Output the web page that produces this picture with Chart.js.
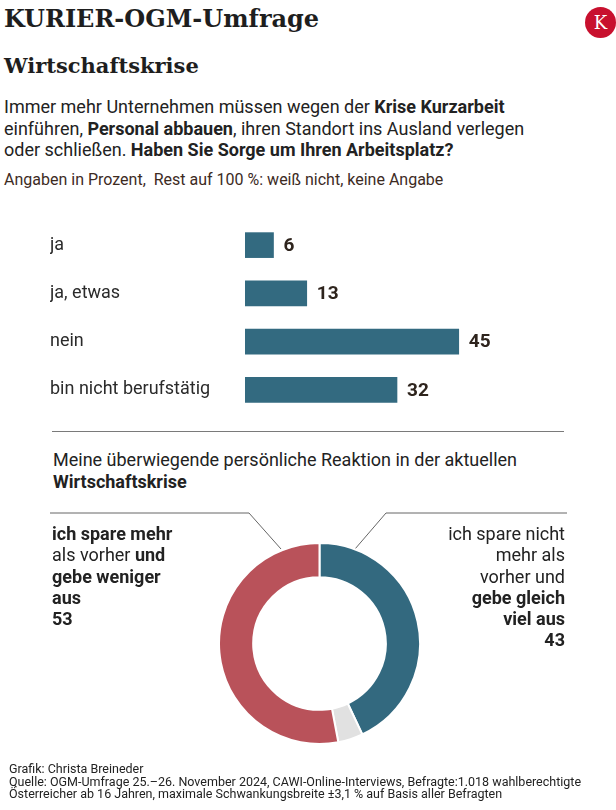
<!DOCTYPE html>
<html lang="de">
<head>
<meta charset="utf-8">
<title>KURIER-OGM-Umfrage: Wirtschaftskrise</title>
<script src="https://cdn.jsdelivr.net/npm/chart.js"></script>
<style>
  html, body { margin: 0; padding: 0; background: #fff; }
  body { width: 616px; height: 810px; position: relative; overflow: hidden;
         font-family: Roboto, "Noto Sans", sans-serif; color: #222; }
  .abs { position: absolute; white-space: nowrap; }
  .titel { left: 4px; top: 4px; font: bold 24px/30px "DejaVu Serif", serif; color: #1e1e1e; }
  .untertitel { left: 4px; top: 52px; font: bold 21px/28px "DejaVu Serif", serif; color: #1e1e1e; }
  .frage { left: 4px; top: 96px; font-size: 18px; line-height: 21.5px; }
  .angaben { left: 4px; top: 170px; font-size: 16px; line-height: 20px; color: #3d2b1f; }
  .logo { left: 585px; top: 7px; width: 31px; height: 31px; border-radius: 50%; background: #c8102e;
          color: #fff; font: 18px/31px "DejaVu Serif", serif; text-align: center; }
  .trenner { left: 52px; top: 431px; width: 512px; height: 0; border-top: 1px solid #7a7a7a; }
  .donutTitel { left: 53px; top: 449px; font-size: 18px; line-height: 22px; }
  .labelLinks { left: 52px; top: 523px; font-size: 18px; line-height: 21.25px; }
  .labelRechts { right: 51px; top: 523px; font-size: 18px; line-height: 21.25px; text-align: right; }
  .fuss { left: 9px; top: 763px; font-size: 12.5px; line-height: 12.7px; color: #222; }
  b { font-weight: 700; }
</style>
</head>
<body>

<div class="abs titel">KURIER-OGM-Umfrage</div>
<div class="abs logo">K</div>
<div class="abs untertitel">Wirtschaftskrise</div>
<div class="abs frage">Immer mehr Unternehmen müssen wegen der <b>Krise Kurzarbeit</b><br>einführen, <b>Personal abbauen</b>, ihren Standort ins Ausland verlegen<br>oder schließen. <b>Haben Sie Sorge um Ihren Arbeitsplatz?</b></div>
<div class="abs angaben">Angaben in Prozent,&nbsp; Rest auf 100 %: weiß nicht, keine Angabe</div>

<div class="abs" style="left:0; top:220px; width:616px; height:200px;">
  <canvas id="graficaSorge"></canvas>
</div>

<div class="abs trenner"></div>
<div class="abs donutTitel">Meine überwiegende persönliche Reaktion in der aktuellen<br><b>Wirtschaftskrise</b></div>

<svg class="abs" style="left:0; top:0;" width="616" height="810">
  <polyline points="50,513 249,513 281,549" fill="none" stroke="#666" stroke-width="1"/>
  <polyline points="567,513 386,513 355,549" fill="none" stroke="#666" stroke-width="1"/>
</svg>

<div class="abs labelLinks"><b>ich spare mehr</b><br>als vorher <b>und</b><br><b>gebe weniger</b><br><b>aus</b><br><b id="wertLinks"></b></div>
<div class="abs labelRechts">ich spare nicht<br>mehr als<br>vorher und<br><b>gebe gleich</b><br><b>viel aus</b><br><b id="wertRechts"></b></div>

<div class="abs" style="left:218px; top:542px; width:203px; height:203px;">
  <canvas id="graficaReaktion"></canvas>
</div>

<div class="abs fuss">Grafik: Christa Breineder<br>Quelle: OGM-Umfrage 25.–26. November 2024, CAWI-Online-Interviews, Befragte:1.018 wahlberechtigte<br>Österreicher ab 16 Jahren, maximale Schwankungsbreite ±3,1 % auf Basis aller Befragten</div>

<script>
// Haben Sie Sorge um Ihren Arbeitsplatz?
const sorgeKategorien = ['ja', 'ja, etwas', 'nein', 'bin nicht berufstätig'];
const sorgeWerte = [6, 13, 45, 32];

// persönliche Reaktion
const reaktionKategorien = ['ich spare nicht mehr als vorher und gebe gleich viel aus', 'weiß nicht, keine Angabe', 'ich spare mehr als vorher und gebe weniger aus'];
const reaktionWerte = [43, 4, 53];
const reaktionFarben = ['#33697f', '#e1e1e1', '#b9525a'];

document.getElementById('wertRechts').textContent = reaktionWerte[0];
document.getElementById('wertLinks').textContent = reaktionWerte[2];

/* Zahlen neben den Balken */
const balkenWerte = {
  id: 'balkenWerte',
  afterDatasetsDraw(chart) {
    const ctx = chart.ctx;
    const meta = chart.getDatasetMeta(0);
    ctx.save();
    ctx.font = 'bold 19px Roboto';
    ctx.fillStyle = '#2e241d';
    ctx.textBaseline = 'middle';
    ctx.textAlign = 'left';
    meta.data.forEach((bar, i) => {
      ctx.fillText(chart.data.datasets[0].data[i], bar.x + 10, bar.y + 1);
    });
    ctx.restore();
  }
};

document.addEventListener("DOMContentLoaded", () => {
  const ctxSorge = document.getElementById('graficaSorge').getContext('2d');

  new Chart(ctxSorge, {
    type: 'bar',
    data: {
      labels: sorgeKategorien,
      datasets: [{
        label: 'Sorge um Arbeitsplatz',
        data: sorgeWerte,
        backgroundColor: '#336a80',
        borderWidth: 0,
        barThickness: 25
      }]
    },
    options: {
      indexAxis: 'y',
      responsive: true,
      maintainAspectRatio: false,
      animation: false,
      layout: { padding: { top: 1, bottom: 6, left: 50, right: 86 } },
      plugins: {
        legend: { display: false },
        tooltip: { enabled: false }
      },
      scales: {
        x: {
          display: false,
          min: 0,
          max: 60
        },
        y: {
          grid: { display: false },
          border: { display: false },
          ticks: {
            color: '#2b2b2b',
            crossAlign: 'far',
            font: { family: 'Roboto', size: 18 }
          },
          afterFit: scale => {
            scale.width = 195;
            scale.paddingTop = 0;
            scale.paddingBottom = 0;
          }
        }
      }
    },
    plugins: [balkenWerte]
  });
});

document.addEventListener("DOMContentLoaded", () => {
  const ctxReaktion = document.getElementById('graficaReaktion').getContext('2d');

  new Chart(ctxReaktion, {
    type: 'doughnut',
    data: {
      labels: reaktionKategorien,
      datasets: [{
        data: reaktionWerte,
        backgroundColor: reaktionFarben,
        borderColor: '#ffffff',
        borderWidth: 2
      }]
    },
    options: {
      responsive: true,
      maintainAspectRatio: false,
      animation: false,
      cutout: '66%',
      plugins: {
        legend: { display: false },
        tooltip: { enabled: false }
      }
    }
  });
});
</script>
</body>
</html>
